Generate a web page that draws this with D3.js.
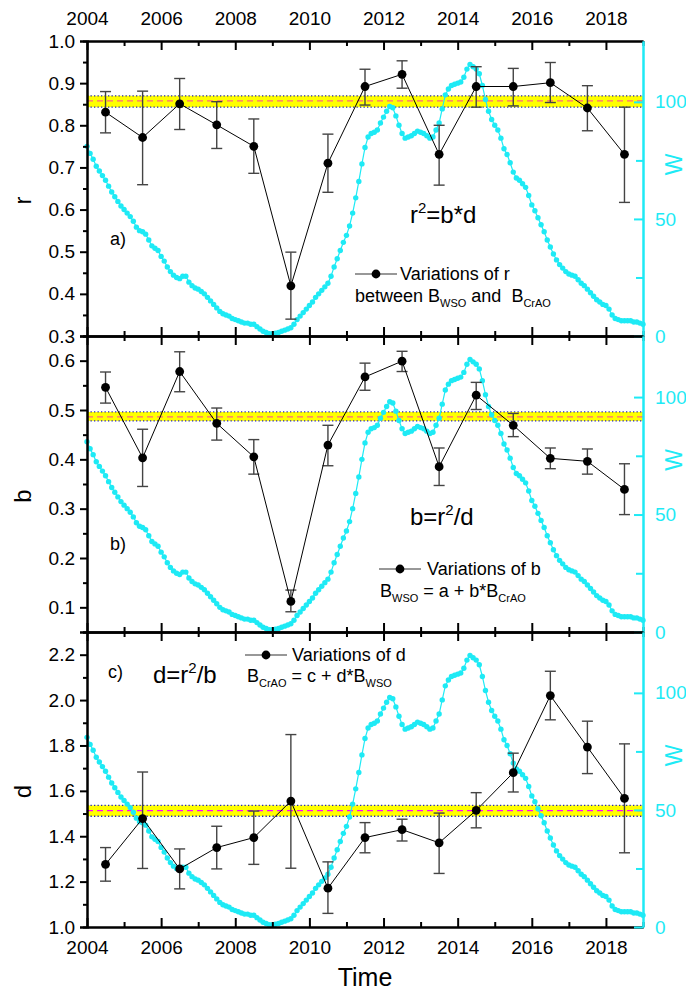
<!DOCTYPE html>
<html>
<head>
<meta charset="utf-8">
<script src="https://cdn.jsdelivr.net/npm/d3@7"></script>
<style>
  body { margin: 0; background: #fff; }
  text { font-family: "Liberation Sans", Arial, sans-serif; }
</style>
</head>
<body>
<svg id="chart" width="686" height="991"></svg>
<script>
var years = [2004.5, 2005.5, 2006.5, 2007.5, 2008.5, 2009.5, 2010.5, 2011.5,
  2012.5, 2013.5, 2014.5, 2015.5, 2016.5, 2017.5, 2018.5];

var rVal = [0.831, 0.771, 0.851, 0.801, 0.750, 0.419, 0.710, 0.892, 0.921, 0.731, 0.892, 0.892, 0.901, 0.841, 0.731];
var rLow = [0.782, 0.659, 0.790, 0.745, 0.686, 0.340, 0.641, 0.848, 0.888, 0.658, 0.843, 0.846, 0.854, 0.787, 0.617];
var rHigh = [0.880, 0.881, 0.911, 0.856, 0.815, 0.499, 0.779, 0.933, 0.953, 0.800, 0.939, 0.935, 0.949, 0.894, 0.843];

var bVal = [0.546, 0.403, 0.578, 0.473, 0.405, 0.112, 0.429, 0.567, 0.599, 0.385, 0.530, 0.469, 0.402, 0.396, 0.339];
var bLow = [0.514, 0.345, 0.537, 0.439, 0.370, 0.091, 0.387, 0.540, 0.578, 0.347, 0.501, 0.446, 0.381, 0.370, 0.288];
var bHigh = [0.577, 0.461, 0.618, 0.504, 0.440, 0.135, 0.469, 0.595, 0.619, 0.423, 0.556, 0.493, 0.423, 0.421, 0.391];

var dVal = [1.276, 1.478, 1.256, 1.350, 1.394, 1.555, 1.171, 1.394, 1.429, 1.371, 1.514, 1.680, 2.020, 1.793, 1.567];
var dLow = [1.202, 1.258, 1.168, 1.256, 1.276, 1.259, 1.060, 1.327, 1.379, 1.236, 1.437, 1.595, 1.913, 1.676, 1.327];
var dHigh = [1.350, 1.683, 1.344, 1.444, 1.511, 1.848, 1.287, 1.460, 1.475, 1.502, 1.592, 1.766, 2.127, 1.907, 1.807];

// mean band: low, mean, high
var rBand = [0.843, 0.858, 0.870];
var bBand = [0.478, 0.486, 0.496];
var dBand = [1.488, 1.513, 1.536];

// W, monthly from 2004.0 to 2019.0
var wStart = 2004;
var wValues = [
  81, 78, 75.5, 72.5, 70.5, 68.5, 66.5, 64, 61.5, 59.5, 57.5, 55.5,
  54, 52.5, 51, 49, 46.5, 45, 44.5, 43.5, 41, 38.5, 37.5, 36.5,
  34, 32, 29.5, 27.5, 26, 25, 24.5, 25.5, 25.5, 23, 21.5, 20.5,
  20, 19, 18, 16.5, 15, 13.5, 12, 10.5, 9.5, 9, 8.5, 7.5,
  7, 6.5, 6, 5.5, 5.5, 5, 5, 4, 3, 2, 1.5, 1,
  1, 1.2, 1.5, 2, 2.5, 3, 3.5, 5, 7, 8.5, 10, 11.5,
  13, 14.5, 16.5, 18, 19.5, 21, 22.5, 25.5, 29.5, 33, 36.5, 40,
  43, 47, 52.5, 59, 66, 73.5, 80.5, 85, 86.5, 87, 88, 91,
  93.5, 96, 98, 97.5, 94, 90, 86.5, 84.5, 85, 85.5, 86.5, 87.5,
  87, 86.5, 85.5, 84.5, 85, 88, 91, 97, 103, 105.5, 107, 107.5,
  108, 108.5, 110.5, 114, 116, 115, 114, 112, 107, 101, 96, 92.5,
  90, 88, 84.5, 80, 77.5, 74, 70, 67.5, 66.5, 65, 63.5, 60,
  56, 53.5, 50.5, 47.5, 44.5, 41, 38, 35, 32.5, 30.5, 29, 27.5,
  26.5, 26, 25.5, 24, 22.5, 21.5, 20, 18.5, 17, 15.5, 14.5, 13.5,
  13, 11.5, 9, 7.5, 7, 6.5, 6.5, 6.5, 6.5, 6, 6, 5.5,
  5
];

var xMajor = [2004, 2006, 2008, 2010, 2012, 2014, 2016, 2018];
var xMinor = [2005, 2007, 2009, 2011, 2013, 2015, 2017, 2019];
var wMajor = [0, 50, 100];
var wMinor = [25, 75];

var cyan = "#1EEAF5";
var svg = d3.select("#chart");

var x = d3.scaleLinear().domain([2004, 2019]).range([87, 643]);

var panels = [
  { top: 41, bottom: 336, domain: [0.3, 1.0], major: [0.3, 0.4, 0.5, 0.6, 0.7, 0.8, 0.9, 1.0],
    minor: [0.35, 0.45, 0.55, 0.65, 0.75, 0.85, 0.95], val: rVal, lo: rLow, hi: rHigh, band: rBand,
    dash: "#FF6680", title: "r", tag: "a)", tagPos: [110, 245] },
  { top: 336, bottom: 632, domain: [0.05, 0.65], major: [0.1, 0.2, 0.3, 0.4, 0.5, 0.6],
    minor: [0.15, 0.25, 0.35, 0.45, 0.55], val: bVal, lo: bLow, hi: bHigh, band: bBand,
    dash: "#FF6680", title: "b", tag: "b)", tagPos: [110, 550] },
  { top: 632, bottom: 927, domain: [1.0, 2.3], major: [1.0, 1.2, 1.4, 1.6, 1.8, 2.0, 2.2],
    minor: [1.1, 1.3, 1.5, 1.7, 1.9, 2.1], val: dVal, lo: dLow, hi: dHigh, band: dBand,
    dash: "#FF00FF", title: "d", tag: "c)", tagPos: [108, 678] }
];

function drawPanel(p, idx) {
  var y = d3.scaleLinear().domain(p.domain).range([p.bottom, p.top]);
  var w = d3.scaleLinear().domain([0, 126]).range([p.bottom, p.top]);
  var g = svg.append("g");

  // mean band
  g.append("rect")
    .attr("x", x(2004)).attr("width", x(2019) - x(2004))
    .attr("y", y(p.band[2])).attr("height", y(p.band[0]) - y(p.band[2]))
    .attr("fill", "#FFFF00");
  [p.band[0], p.band[2]].forEach(function (v) {
    g.append("line")
      .attr("x1", x(2004)).attr("x2", x(2019))
      .attr("y1", y(v)).attr("y2", y(v))
      .attr("stroke", "#2828B0").attr("stroke-width", 1.3)
      .attr("stroke-dasharray", "1.3,2.2");
  });
  g.append("line")
    .attr("x1", x(2004)).attr("x2", x(2019))
    .attr("y1", y(p.band[1])).attr("y2", y(p.band[1]))
    .attr("stroke", p.dash).attr("stroke-width", 1.3)
    .attr("stroke-dasharray", "6,4");

  // W curve
  var wPts = wValues.map(function (v, i) { return [wStart + i / 12, v]; });
  g.append("path")
    .datum(wPts)
    .attr("fill", "none").attr("stroke", cyan).attr("stroke-width", 1.2)
    .attr("d", d3.line().x(function (d) { return x(d[0]); }).y(function (d) { return w(d[1]); }));
  g.selectAll(".wdot").data(wPts).enter().append("circle")
    .attr("cx", function (d) { return x(d[0]); })
    .attr("cy", function (d) { return w(d[1]); })
    .attr("r", 2.7).attr("fill", cyan);

  // error bars
  var eb = g.selectAll(".eb").data(years).enter().append("g");
  eb.append("line")
    .attr("x1", function (d) { return x(d); }).attr("x2", function (d) { return x(d); })
    .attr("y1", function (d, i) { return y(p.lo[i]); })
    .attr("y2", function (d, i) { return y(p.hi[i]); })
    .attr("stroke", "#444").attr("stroke-width", 1.4);
  ["lo", "hi"].forEach(function (k) {
    eb.append("line")
      .attr("x1", function (d) { return x(d) - 5.5; }).attr("x2", function (d) { return x(d) + 5.5; })
      .attr("y1", function (d, i) { return y(p[k][i]); })
      .attr("y2", function (d, i) { return y(p[k][i]); })
      .attr("stroke", "#444").attr("stroke-width", 1.4);
  });

  g.append("path")
    .datum(years)
    .attr("fill", "none").attr("stroke", "#000").attr("stroke-width", 1)
    .attr("d", d3.line().x(function (d) { return x(d); }).y(function (d, i) { return y(p.val[i]); }));
  g.selectAll(".pt").data(years).enter().append("circle")
    .attr("cx", function (d) { return x(d); })
    .attr("cy", function (d, i) { return y(p.val[i]); })
    .attr("r", 4.4).attr("fill", "#000");

  // x axes: ticks point inward at top and bottom of each panel
  g.append("g").attr("transform", "translate(0," + p.bottom + ")")
    .call(d3.axisBottom(x).tickValues(xMajor).tickSizeInner(-9).tickSizeOuter(0).tickPadding(13.5)
      .tickFormat(idx === 2 ? d3.format("d") : ""));
  g.append("g").attr("transform", "translate(0," + p.bottom + ")")
    .call(d3.axisBottom(x).tickValues(xMinor).tickSizeInner(-5).tickSizeOuter(0).tickFormat(""));
  g.append("g").attr("transform", "translate(0," + p.top + ")")
    .call(d3.axisTop(x).tickValues(xMajor).tickSizeInner(-9).tickSizeOuter(0).tickPadding(16)
      .tickFormat(idx === 0 ? d3.format("d") : ""));
  g.append("g").attr("transform", "translate(0," + p.top + ")")
    .call(d3.axisTop(x).tickValues(xMinor).tickSizeInner(-5).tickSizeOuter(0).tickFormat(""));

  // left axis
  g.append("g").attr("transform", "translate(" + x(2004) + ",0)")
    .call(d3.axisLeft(y).tickValues(p.major).tickSize(7).tickPadding(5).tickFormat(d3.format(".1f")));
  g.append("g").attr("transform", "translate(" + x(2004) + ",0)")
    .call(d3.axisLeft(y).tickValues(p.minor).tickSize(4).tickFormat(""));

  // right W axis, ticks inward
  g.append("g").attr("class", "waxis").attr("transform", "translate(" + x(2019) + ",0)")
    .call(d3.axisRight(w).tickValues(wMajor).tickSizeInner(-9).tickSizeOuter(0).tickPadding(12));
  g.append("g").attr("class", "waxis").attr("transform", "translate(" + x(2019) + ",0)")
    .call(d3.axisRight(w).tickValues(wMinor).tickSizeInner(-7).tickSizeOuter(0).tickFormat(""));

  g.append("text")
    .attr("transform", "translate(31," + ((p.top + p.bottom) / 2 + 12) + ") rotate(-90)")
    .attr("text-anchor", "middle").attr("font-size", 24).text(p.title);
  g.append("text")
    .attr("transform", "translate(682," + ((p.top + p.bottom) / 2 - 24) + ") rotate(-90)")
    .attr("text-anchor", "middle").attr("font-size", 23).attr("fill", cyan).text("W");
  g.append("text")
    .attr("x", p.tagPos[0]).attr("y", p.tagPos[1])
    .attr("font-size", 18).text(p.tag);
}

panels.forEach(drawPanel);

svg.selectAll(".domain").attr("stroke", "#000").attr("stroke-width", 2);
svg.selectAll(".tick line").attr("stroke", "#000").attr("stroke-width", 2);
svg.selectAll(".tick text").attr("font-size", 19).attr("fill", "#000")
  .attr("font-family", "Liberation Sans, Arial, sans-serif");
svg.selectAll(".waxis .domain").attr("stroke", cyan);
svg.selectAll(".waxis .tick line").attr("stroke", cyan);
svg.selectAll(".waxis .tick text").attr("fill", cyan);
svg.selectAll(".waxis").raise();

// formulas
function formula(xp, yp, a, sup, b) {
  var t = svg.append("text").attr("x", xp).attr("y", yp).attr("font-size", 24);
  t.append("tspan").text(a);
  t.append("tspan").attr("font-size", 15).attr("dy", -10).text(sup);
  t.append("tspan").attr("dy", 10).text(b);
}
formula(410, 223, "r", "2", "=b*d");
formula(410, 525, "b=r", "2", "/d");
formula(153, 683, "d=r", "2", "/b");

// legends
function legendSymbol(x0, y0) {
  svg.append("line").attr("x1", x0).attr("x2", x0 + 42).attr("y1", y0).attr("y2", y0)
    .attr("stroke", "#333").attr("stroke-width", 1.2);
  svg.append("circle").attr("cx", x0 + 21).attr("cy", y0).attr("r", 4.4).attr("fill", "#000");
}
// parts: plain strings, or arrays ["sub", text] for subscripts
function richLine(xp, yp, parts) {
  var t = svg.append("text").attr("x", xp).attr("y", yp).attr("font-size", 18)
    .style("white-space", "pre");
  var shift = 0;
  parts.forEach(function (s) {
    if (Array.isArray(s)) {
      t.append("tspan").attr("font-size", 11).attr("dy", 5 - shift).text(s[1]);
      shift = 5;
    } else {
      t.append("tspan").attr("dy", -shift).text(s);
      shift = 0;
    }
  });
}

legendSymbol(355, 274);
richLine(400, 280, ["Variations of r"]);
richLine(355, 302, ["between B", ["sub", "WSO"], " and \u00A0B", ["sub", "CrAO"]]);

legendSymbol(379, 569);
richLine(427, 575, ["Variations of b"]);
richLine(380, 597, ["B", ["sub", "WSO"], " = a + b*B", ["sub", "CrAO"]]);

legendSymbol(245, 655);
richLine(292, 661, ["Variations of d"]);
richLine(247, 682, ["B", ["sub", "CrAO"], " = c + d*B", ["sub", "WSO"]]);

svg.append("text").attr("x", 365).attr("y", 986).attr("text-anchor", "middle")
  .attr("font-size", 25).text("Time");
</script>
</body>
</html>
